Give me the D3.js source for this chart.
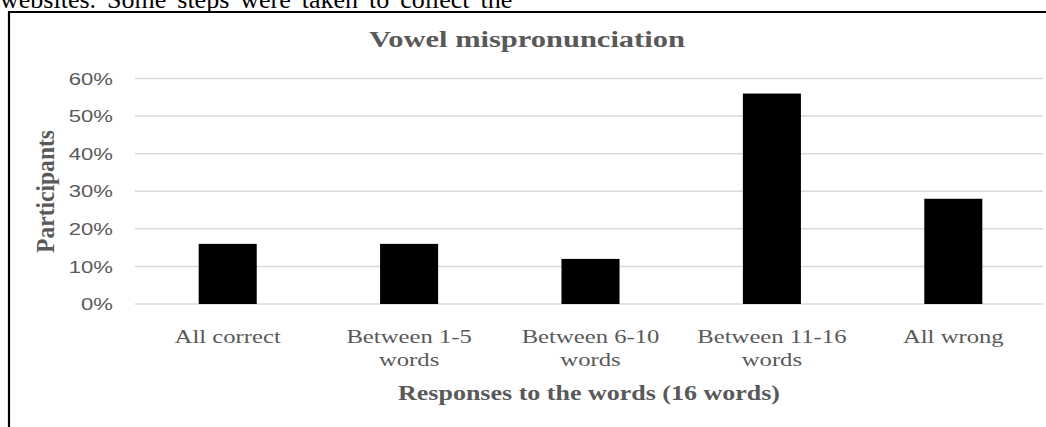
<!DOCTYPE html>
<html>
<head>
<meta charset="utf-8">
<script src="https://cdn.jsdelivr.net/npm/d3@7"></script>
<style>
  body { margin: 0; background: #fff; }
  svg { display: block; }
</style>
</head>
<body>
<script>
// chart data
var categories = ["All correct", "Between 1-5 words", "Between 6-10 words", "Between 11-16 words", "All wrong"];
var catLines = [["All correct"], ["Between 1-5", "words"], ["Between 6-10", "words"], ["Between 11-16", "words"], ["All wrong"]];
var values = [0.16, 0.16, 0.12, 0.56, 0.28];
var yTicks = [0, 0.1, 0.2, 0.3, 0.4, 0.5, 0.6];

var svgWidth = 1046;
var svgHeight = 427;

var plot = { left: 137, right: 1044, top: 78.5, bottom: 304 };
var textGrey = "#595959";
var serif = "'Liberation Serif', 'Times New Roman', serif";
var sans = "'Liberation Sans', Arial, sans-serif";
var sx = 1.3; // the picture is a bit wide, stretch text sideways

var svg = d3.select("body")
  .append("svg")
  .attr("width", svgWidth)
  .attr("height", svgHeight);

// running text of the page above the figure (cut off)
svg.append("text")
  .attr("x", 0)
  .attr("y", 8)
  .attr("font-family", serif)
  .attr("font-size", 26)
  .attr("word-spacing", 4.5)
  .attr("fill", "#000")
  .text("websites. Some steps were taken to collect the");

// figure frame
svg.append("path")
  .attr("d", "M9,427 V12 H1046")
  .attr("fill", "none")
  .attr("stroke", "#000")
  .attr("stroke-width", 2.2);

var xScale = d3.scaleBand()
  .domain(categories)
  .range([plot.left, plot.right])
  .paddingInner(0.68)
  .paddingOuter(0.34);

var yScale = d3.scaleLinear()
  .domain([0, 0.6])
  .range([plot.bottom, plot.top]);

// gridlines
svg.append("g")
  .selectAll("line")
  .data(yTicks)
  .enter()
  .append("line")
  .attr("x1", 135)
  .attr("x2", 1043)
  .attr("y1", d => yScale(d))
  .attr("y2", d => yScale(d))
  .attr("stroke", "#d9d9d9")
  .attr("stroke-width", 1.5);

// y tick labels
svg.append("g")
  .selectAll("text")
  .data(yTicks)
  .enter()
  .append("text")
  .attr("transform", d => `translate(113, ${yScale(d)}) scale(${sx}, 1)`)
  .attr("dy", "0.36em")
  .attr("text-anchor", "end")
  .attr("font-family", sans)
  .attr("font-size", 17)
  .attr("fill", textGrey)
  .text(d3.format(".0%"));

// bars
svg.append("g")
  .selectAll("rect")
  .data(values)
  .enter()
  .append("rect")
  .attr("x", (d, i) => xScale(categories[i]))
  .attr("y", d => yScale(d))
  .attr("width", xScale.bandwidth())
  .attr("height", d => yScale(0) - yScale(d))
  .attr("fill", "#000");

// category labels
var catGroup = svg.append("g")
  .selectAll("g")
  .data(categories)
  .enter()
  .append("g")
  .attr("transform", d => `translate(${xScale(d) + xScale.bandwidth() / 2}, 343) scale(${sx}, 1)`);

catGroup.each(function(d, i) {
  d3.select(this).selectAll("text")
    .data(catLines[i])
    .enter()
    .append("text")
    .attr("y", (t, j) => j * 23)
    .attr("text-anchor", "middle")
    .attr("font-family", serif)
    .attr("font-size", 19)
    .attr("fill", textGrey)
    .text(t => t);
});

// chart title
svg.append("text")
  .attr("transform", `translate(527, 47) scale(1.27, 1)`)
  .attr("text-anchor", "middle")
  .attr("font-family", serif)
  .attr("font-weight", "bold")
  .attr("font-size", 24)
  .attr("fill", textGrey)
  .text("Vowel mispronunciation");

// x axis title
svg.append("text")
  .attr("transform", `translate(589, 400) scale(${sx}, 1)`)
  .attr("text-anchor", "middle")
  .attr("font-family", serif)
  .attr("font-weight", "bold")
  .attr("font-size", 20)
  .attr("fill", textGrey)
  .text("Responses to the words (16 words)");

// y axis title
svg.append("text")
  .attr("transform", `translate(54, 191.5) scale(${sx}, 1) rotate(-90) scale(1.24, 1)`)
  .attr("text-anchor", "middle")
  .attr("font-family", serif)
  .attr("font-weight", "bold")
  .attr("font-size", 19)
  .attr("fill", textGrey)
  .text("Participants");
</script>
</body>
</html>
